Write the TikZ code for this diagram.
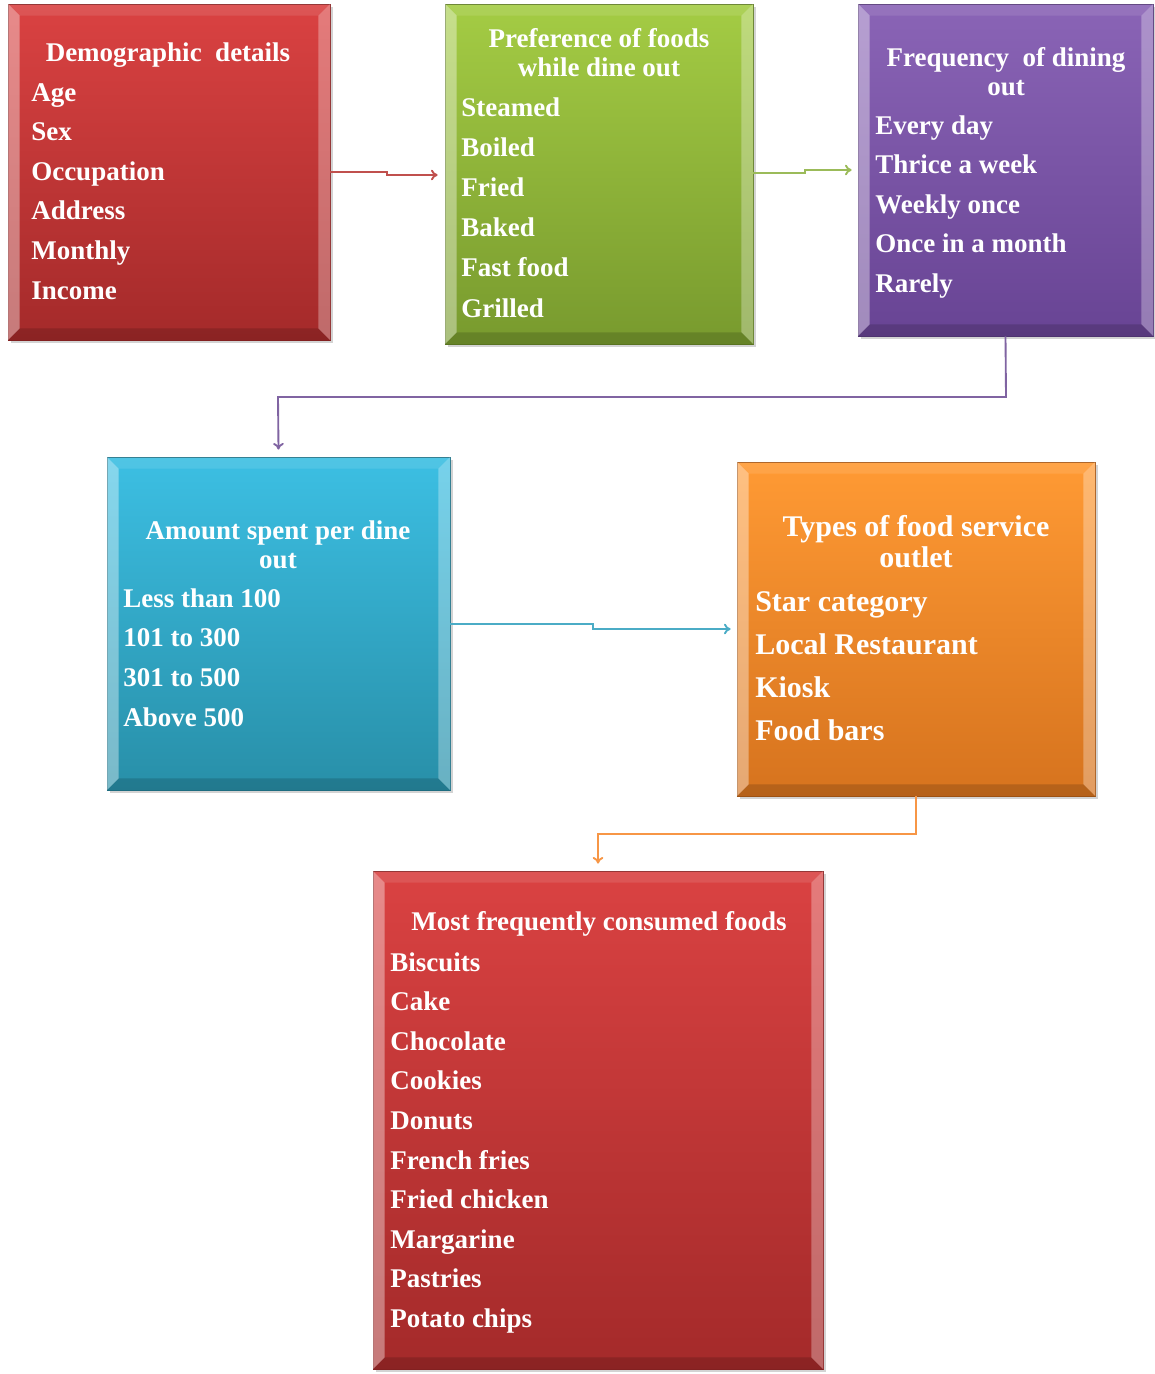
\documentclass[tikz,border=0pt]{standalone}
\usepackage{fontspec}
\setmainfont{Liberation Serif}
\usetikzlibrary{calc,arrows.meta,shadows,fit}

\definecolor{redT}{HTML}{DA4242}
\definecolor{redB}{HTML}{A42A2A}
\definecolor{redD}{HTML}{8A2222}
\definecolor{grnT}{HTML}{A4CC44}
\definecolor{grnB}{HTML}{789A2E}
\definecolor{grnD}{HTML}{5E7A22}
\definecolor{purT}{HTML}{8A64B6}
\definecolor{purB}{HTML}{684494}
\definecolor{purD}{HTML}{533676}
\definecolor{bluT}{HTML}{3CBFE3}
\definecolor{bluB}{HTML}{288FA8}
\definecolor{bluD}{HTML}{1F7287}
\definecolor{orgT}{HTML}{FF9A34}
\definecolor{orgB}{HTML}{D6731E}
\definecolor{orgD}{HTML}{A65614}
\definecolor{lnRed}{HTML}{C0504D}
\definecolor{lnGrn}{HTML}{9BBB59}
\definecolor{lnPur}{HTML}{8064A2}
\definecolor{lnBlu}{HTML}{4BACC6}
\definecolor{lnOrg}{HTML}{F79646}

\tikzset{
  box/.style n args={3}{inner sep=0pt, draw=#3, line width=0.6pt,
    top color=#1, bottom color=#2,
    drop shadow={opacity=0.35, shadow xshift=2pt, shadow yshift=-2pt}},
  itm/.style={text=white, font=\fontsize{20.25}{29.7}\selectfont\bfseries, inner sep=0pt, anchor=base west},
  ttl/.style={text=white, font=\fontsize{20.25}{21.75}\selectfont\bfseries, inner sep=0pt, align=center},
  itmL/.style={itm, font=\fontsize{22.5}{32}\selectfont\bfseries},
  ttlL/.style={ttl, font=\fontsize{22.5}{23.25}\selectfont\bfseries},
  conn/.style={line width=1.4pt, -{To[length=5pt,width=8pt]}},
}

\newcommand\bevel[1]{%
  \fill[white,opacity=0.38] (#1.north west) -- ($(#1.north west)+(12,12)$) -- ($(#1.south west)+(12,-12)$) -- (#1.south west) -- cycle;
  \fill[white,opacity=0.30] (#1.north east) -- ($(#1.north east)+(-12,12)$) -- ($(#1.south east)+(-12,-12)$) -- (#1.south east) -- cycle;
  \fill[white,opacity=0.10] (#1.north west) -- ($(#1.north west)+(12,12)$) -- ($(#1.north east)+(-12,12)$) -- (#1.north east) -- cycle;
  \fill[black,opacity=0.15] (#1.south west) -- ($(#1.south west)+(12,-12)$) -- ($(#1.south east)+(-12,-12)$) -- (#1.south east) -- cycle;
}

\newcommand\itemlist[6]{% name, style, x, y0, dy, list
  \foreach \t [count=\i] in {#6} {
    \node[#2] (#1\i) at ({#3},{#4+(\i-1)*#5}) {\t};
  }
}

\begin{document}
\begin{tikzpicture}[x=0.75pt,y=-0.75pt]
\useasboundingbox (0,0) rectangle (1154,1374);

% boxes
\node[box={redT}{redB}{redD}, fit={(8,4) (330,340)}] (demo) {};
\node[box={grnT}{grnB}{grnD}, fit={(445,4) (753,344)}] (pref) {};
\node[box={purT}{purB}{purD}, fit={(858,4) (1153,336)}] (freq) {};
\node[box={bluT}{bluB}{bluD}, fit={(107,457) (450,790)}] (amt) {};
\node[box={orgT}{orgB}{orgD}, fit={(737,462) (1095,796)}] (outlet) {};
\node[box={redT}{redB}{redD}, fit={(373,871) (823,1369)}] (foods) {};

\bevel{demo}
\bevel{pref}
\bevel{freq}
\bevel{amt}
\bevel{outlet}
\bevel{foods}

% titles
\node[ttl] (demoT) at (168,55) {Demographic\ \ details};
\node[ttl] (prefT) at (599,52.5) {Preference of foods\\while dine out};
\node[ttl] (freqT) at (1006,72) {Frequency\ \ of dining\\out};
\node[ttl] (amtT) at (278,544.5) {Amount spent per dine\\out};
\node[ttlL] (outletT) at (916,541.5) {Types of food service\\outlet};
\node[ttl] (foodsT) at (599,924) {Most frequently consumed foods};

% items
\itemlist{demoI}{itm}{31}{101}{39.6}{Age,Sex,Occupation,Address,Monthly,Income}
\itemlist{prefI}{itm}{461}{116}{40.2}{Steamed,Boiled,Fried,Baked,Fast food,Grilled}
\itemlist{freqI}{itm}{875}{134}{39.5}{Every day,Thrice a week,Weekly once,Once in a month,Rarely}
\itemlist{amtI}{itm}{123}{607}{39.7}{Less than 100,101 to 300,301 to 500,Above 500}
\itemlist{outI}{itmL}{755}{611}{43}{Star category,Local Restaurant,Kiosk,Food bars}
\itemlist{foodI}{itm}{390}{971}{39.6}{Biscuits,Cake,Chocolate,Cookies,Donuts,French fries,Fried chicken,Margarine,Pastries,Potato chips}

% connectors
\coordinate (e1) at (438,175);
\draw[conn, lnRed] (demo.east |- 0,172) -- (387,172) -- (387,175) -- ($(pref.west |- e1)+(-7,0)$);
\coordinate (e2) at (852,170);
\draw[conn, lnGrn] (pref.east |- 0,173) -- (805,173) -- (805,170) -- ($(freq.west |- e2)+(-6,0)$);
\draw[conn, lnPur] (freq.south) -- (1006,397) -- (278,397) -- ($(amt.north)+(0,-7)$);
\coordinate (e4) at (731,629);
\draw[conn, lnBlu] (amt.east |- 0,624) -- (593,624) -- (593,629) -- ($(outlet.west |- e4)+(-6,0)$);
\draw[conn, lnOrg] (outlet.south) -- (916,834) -- (598,834) -- ($(foods.north -| 598,0)+(0,-7)$);
\end{tikzpicture}
\end{document}
